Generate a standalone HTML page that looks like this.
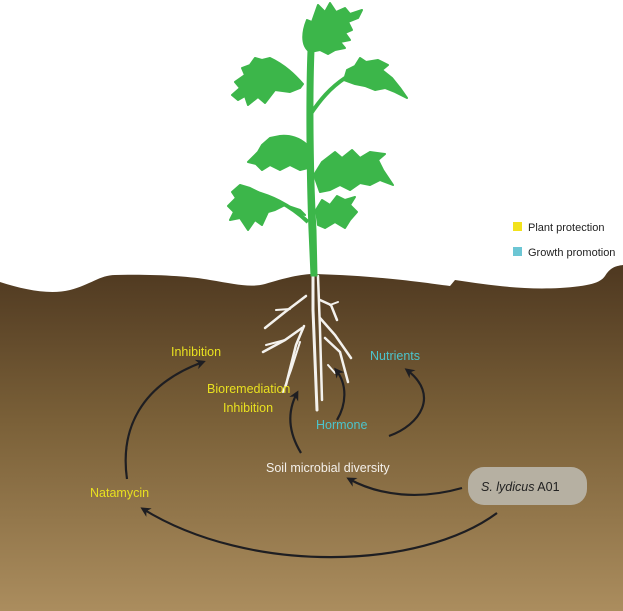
<!DOCTYPE html>
<html><head><meta charset="utf-8"><style>
html,body{margin:0;padding:0;background:#fff;}
svg{display:block;}
text{font-family:"Liberation Sans",sans-serif;font-size:12.5px;}
</style></head><body>
<svg width="623" height="611" viewBox="0 0 623 611" xmlns="http://www.w3.org/2000/svg">
<defs>
<linearGradient id="soil" x1="0" y1="0" x2="0" y2="1">
<stop offset="0" stop-color="#4e3820"/>
<stop offset="0.45" stop-color="#7a6038"/>
<stop offset="1" stop-color="#ab8d5e"/>
</linearGradient>
<marker id="ah" markerWidth="10" markerHeight="10" refX="7" refY="5" orient="auto" markerUnits="userSpaceOnUse">
<path d="M0,0 L10,5 L0,10 L3,5 Z" fill="#1e1e22"/>
</marker>
</defs>
<rect width="623" height="611" fill="#fff"/>
<path d="M0,282 C25,290 50,295 70,290 C90,285 100,275 115,275 C150,274 190,276 210,280 C235,284 250,288 265,284 C285,278 300,274 315,274 C380,276 420,282 450,286 L455,280 C490,285 520,290 560,288 C590,286 600,283 605,276 C610,268 615,266 623,265 L623,611 L0,611 Z" fill="url(#soil)"/>
<!-- roots -->
<g stroke="#f4f2ee" stroke-linecap="round" fill="none">
<path d="M313,276 L313,310 L317,410" stroke-width="3"/>
<path d="M318,276 L320,330 L322,400" stroke-width="2.5"/>
<path d="M306,296 L285,312 L265,328" stroke-width="2.5"/>
<path d="M290,309 L276,310" stroke-width="2"/>
<path d="M302,328 L285,340 L263,352" stroke-width="2.5"/>
<path d="M285,340 L266,345" stroke-width="2"/>
<path d="M304,326 L296,345 L286,385" stroke-width="2.5"/>
<path d="M300,342 L291,370 L283,392" stroke-width="2"/>
<path d="M320,300 L331,305 L337,320" stroke-width="2.5"/>
<path d="M330,305 L338,302" stroke-width="2"/>
<path d="M320,318 L335,335 L351,358" stroke-width="2.5"/>
<path d="M325,338 L340,352 L348,382" stroke-width="2.5"/>
<path d="M328,365 L335,373" stroke-width="2"/>
</g>
<!-- plant -->
<g fill="#3cb64a" stroke="#3cb64a" stroke-linejoin="round">
<path d="M308,50 C306,100 307,180 309,230 L311,276 L317,276 L316,230 C313,180 312,100 314,50 Z" stroke-width="1"/>
<path d="M310,115 C320,100 330,88 345,78" stroke-width="4" fill="none"/>
<path d="M308,222 C290,205 270,195 245,190" stroke-width="4" fill="none"/>
<path d="M310,52 C300,45 303,30 307,20 L312,22 L318,5 L325,12 L330,3 L336,12 L345,8 L350,14 L362,10 L358,18 L348,22 L352,30 L345,33 L350,40 L340,42 L345,48 L335,50 L328,54 L320,50 Z" stroke-width="2"/>
<path d="M303,84 C295,75 285,65 270,58 L262,60 L255,58 L250,65 L242,68 L245,75 L235,82 L240,88 L232,95 L238,100 L245,96 L248,105 L258,97 L265,103 L275,90 L290,92 L300,88 Z" stroke-width="2"/>
<path d="M344,80 L347,70 L355,66 L360,58 L366,62 L378,60 L388,65 L382,70 L392,78 L400,88 L407,98 L395,92 L385,88 L375,90 L365,86 L355,84 Z" stroke-width="2"/>
<path d="M307,145 C300,138 290,135 280,136 L270,138 L262,145 L258,152 L248,162 L256,164 L262,170 L270,165 L280,170 L290,165 L300,170 L308,168 Z" stroke-width="2"/>
<path d="M314,175 L322,162 L335,152 L342,158 L352,150 L360,158 L370,152 L385,154 L378,160 L383,170 L393,185 L380,180 L370,185 L360,183 L350,190 L340,185 L330,190 L320,192 Z" stroke-width="2"/>
<path d="M250,188 L240,185 L232,192 L236,198 L228,206 L234,212 L230,220 L240,218 L248,230 L255,220 L262,225 L268,212 L275,210 L285,205 L300,210 L305,215 Z" stroke-width="2"/>
<path d="M316,210 L322,200 L330,205 L337,196 L345,200 L355,197 L350,205 L357,212 L350,220 L345,228 L335,222 L325,228 L318,225 Z" stroke-width="2"/>
</g>
<!-- legend -->
<rect x="513" y="222" width="9" height="9" fill="#f2e21c"/>
<text x="528" y="231" fill="#222" style="font-size:11px">Plant protection</text>
<rect x="513" y="247" width="9" height="9" fill="#6cc6d4"/>
<text x="528" y="256" fill="#222" style="font-size:11px">Growth promotion</text>
<!-- arrows -->
<g stroke="#1e1e22" stroke-width="2.2" fill="none" marker-end="url(#ah)">
<path d="M127,479 C120,430 140,385 203,362"/>
<path d="M301,453 C287,430 288,410 297,393"/>
<path d="M337,420 C346,405 348,385 336,370"/>
<path d="M389,436 C420,425 440,395 407,370"/>
<path d="M462,488 C420,500 380,496 349,479"/>
<path d="M497,513 C420,570 250,575 143,509"/>
</g>
<!-- labels -->
<text x="171" y="356" fill="#e8e020">Inhibition</text>
<text x="207" y="393" fill="#e8e020">Bioremediation</text>
<text x="223" y="412" fill="#e8e020">Inhibition</text>
<text x="370" y="360" fill="#4cc4cc">Nutrients</text>
<text x="316" y="429" fill="#4cc4cc">Hormone</text>
<text x="266" y="472" fill="#f4f0ea">Soil microbial diversity</text>
<text x="90" y="497" fill="#e8e020">Natamycin</text>
<rect x="468" y="467" width="119" height="38" rx="16" fill="#b6b0a2"/>
<text x="481" y="491" fill="#222"><tspan font-style="italic">S. lydicus</tspan> A01</text>
</svg>
</body></html>
